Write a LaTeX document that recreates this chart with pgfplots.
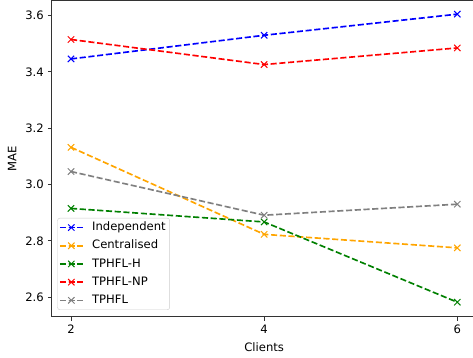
\documentclass[border=0pt]{standalone}
\usepackage{pgfplots}
\pgfplotsset{compat=1.18}
\usepackage{fontspec}
\setmainfont{DejaVu Sans}

\definecolor{mplorange}{HTML}{FFA500}
\definecolor{mplgreen}{HTML}{008000}
\definecolor{mplgray}{HTML}{808080}

\pgfplotstableread{
clients independent centralised tphflh tphflnp tphfl
2 3.446 3.132 2.915 3.515 3.046
4 3.530 2.823 2.867 3.426 2.891
6 3.605 2.775 2.582 3.485 2.930
}\maetable

\newcommand{\chartfont}{\fontsize{11.6bp}{13.5bp}\selectfont}

\begin{document}
\chartfont
\begin{tikzpicture}
\begin{axis}[
  scale only axis,
  width=424.9bp, height=316.2bp,
  xmin=1.8, xmax=6.2,
  ymin=2.5305, ymax=3.6535,
  xtick={2,4,6},
  ytick={2.6,2.8,3.0,3.2,3.4,3.6},
  yticklabel style={/pgf/number format/.cd, fixed, fixed zerofill, precision=1},
  /pgf/number format/assume math mode=true,
  tick align=outside,
  major tick length=3.85bp,
  xtick pos=bottom, ytick pos=left,
  axis line style={line width=0.8pt, black!80},
  tick style={line width=0.8pt, black!80},
  xlabel={Clients}, ylabel={MAE},
  xlabel style={yshift=-1bp},
  ylabel style={yshift=1bp},
  ticklabel style={font=\chartfont},
  label style={font=\chartfont},
  every axis plot/.append style={line width=1.65bp, dash pattern=on 6.1bp off 2.65bp,
    mark=x, mark size=4.5bp, mark options={solid, line width=1.0bp}},
  legend cell align=left,
  legend image code/.code={
    \draw[mark repeat=2, mark phase=2] plot coordinates {(0bp,0bp) (11.5bp,0bp) (23bp,0bp)};},
  legend style={at={(rel axis cs:0.0132,0.0212)}, anchor=south west,
    draw=black!20, rounded corners=2.5bp, fill=white, fill opacity=0.8, text opacity=1,
    font=\chartfont, row sep=2.3bp, inner sep=1.5bp,
    /tikz/every odd column/.append style={column sep=6bp},
    nodes={inner sep=2.5bp, text height=8.5bp, text depth=2.4bp}},
]
\addplot[blue] table[x=clients, y=independent] {\maetable};
\addlegendentry{Independent}
\addplot[mplorange] table[x=clients, y=centralised] {\maetable};
\addlegendentry{Centralised}
\addplot[mplgreen] table[x=clients, y=tphflh] {\maetable};
\addlegendentry{TPHFL-H}
\addplot[red] table[x=clients, y=tphflnp] {\maetable};
\addlegendentry{TPHFL-NP}
\addplot[mplgray] table[x=clients, y=tphfl] {\maetable};
\addlegendentry{TPHFL}
\end{axis}
\pgfresetboundingbox
\path[use as bounding box] (-51.7bp,-41.3bp) rectangle (421.3bp,316.7bp);
\end{tikzpicture}
\end{document}
